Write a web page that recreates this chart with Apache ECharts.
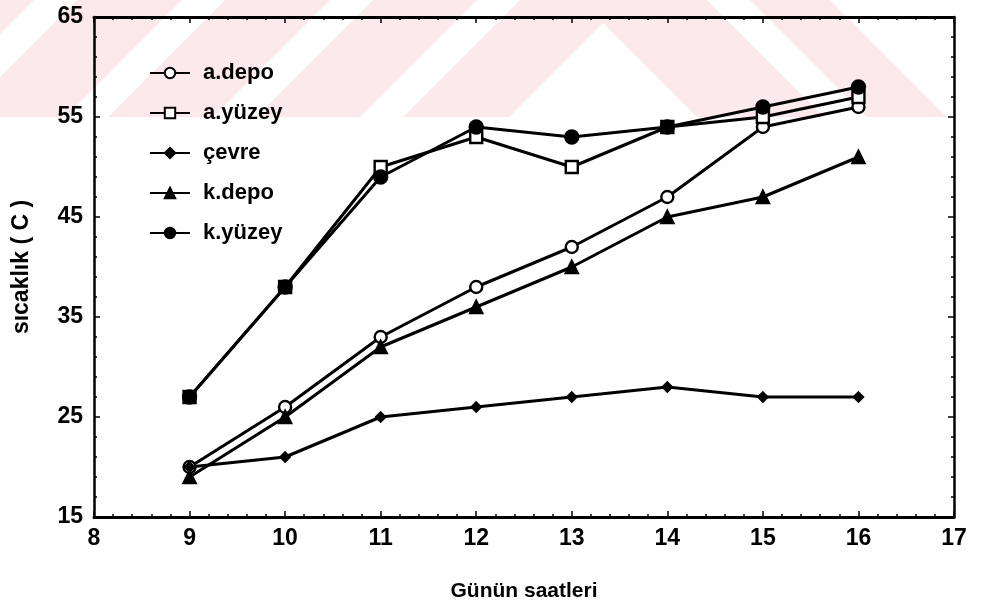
<!DOCTYPE html>
<html>
<head>
<meta charset="utf-8">
<script src="https://cdn.jsdelivr.net/npm/echarts@6/dist/echarts.min.js"></script>
<style>
  html, body { margin: 0; padding: 0; background: #fff; }
  #chart { width: 982px; height: 608px; }
</style>
</head>
<body>
<div id="chart"></div>
<script>
// Hours of the day (x) and temperatures in °C for each measurement point
const hours   = [9, 10, 11, 12, 13, 14, 15, 16];
const aDepo   = [20, 26, 33, 38, 42, 47, 54, 56];
const aYuzey  = [27, 38, 50, 53, 50, 54, 55, 57];
const cevre   = [20, 21, 25, 26, 27, 28, 27, 27];
const kDepo   = [19, 25, 32, 36, 40, 45, 47, 51];
const kYuzey  = [27, 38, 49, 54, 53, 54, 56, 58];

const xTicks = [8, 9, 10, 11, 12, 13, 14, 15, 16, 17];
const yTicks = [15, 25, 35, 45, 55, 65];

const FONT = "'Liberation Sans Narrow', 'Liberation Sans', Arial, sans-serif";

const pairs = (ys) => hours.map((h, i) => [h, ys[i]]);

// Faint pink chevron pattern behind the plot (top band only)
function chevronBands() {
  const H = 117, fill = '#fce9ec';
  const polys = [];
  // "/" bands: [left, right] at y = 0
  const leftBands = [[520, 626], [373, 477], [225, 330], [77, 182], [-71, 34]];
  leftBands.forEach(([a, b]) => polys.push([[a, 0], [b, 0], [b - H, H], [a - H, H]]));
  // "\" bands
  const rightBands = [[580, 707], [750, 830]];
  rightBands.forEach(([a, b]) => polys.push([[a, 0], [b, 0], [b + H, H], [a + H, H]]));
  return polys.map(p => ({
    type: 'polygon', z: -10, silent: true,
    shape: { points: p }, style: { fill: fill }
  }));
}

const lineStyle = { color: '#000', width: 3 };
function mkSeries(name, data, symbol, size, filled) {
  return {
    name: name, type: 'line', data: pairs(data),
    symbol: symbol, symbolSize: size,
    lineStyle: lineStyle,
    itemStyle: { color: filled ? '#000' : '#fff', borderColor: '#000', borderWidth: 2.4 },
    emphasis: { disabled: true },
    z: 3
  };
}

const axisLineStyle = (w) => ({ show: true, lineStyle: { color: '#000', width: w } });
const tickStyle = { show: true, inside: true, length: 6, lineStyle: { color: '#000', width: 1.5 } };
const minorStyle = { show: true, splitNumber: 5, length: 3, lineStyle: { color: '#000', width: 1.5 } };
const labelStyle = (m) => ({ fontFamily: FONT, fontWeight: 'bold', fontSize: 23, color: '#000', margin: m });

const chart = echarts.init(document.getElementById('chart'), null, { renderer: 'canvas' });
chart.setOption({
  backgroundColor: '#fff',
  animation: false,
  graphic: chevronBands(),
  grid: { left: 94, right: 28, top: 17, bottom: 91 },
  legend: {
    orient: 'vertical', left: 144, top: 57,
    itemWidth: 40, itemHeight: 13, itemGap: 18,
    textStyle: { fontFamily: FONT, fontWeight: 'bold', fontSize: 22, lineHeight: 20, color: '#000', padding: [0, 0, 0, 8] },
    data: ['a.depo', 'a.yüzey', 'çevre', 'k.depo', 'k.yüzey']
  },
  xAxis: [{
    type: 'value', min: xTicks[0], max: xTicks[xTicks.length - 1], interval: 1,
    name: 'Günün saatleri', nameLocation: 'middle', nameGap: 64,
    nameTextStyle: { fontFamily: FONT, fontWeight: 'bold', fontSize: 21, color: '#000' },
    axisLine: axisLineStyle(3), axisTick: tickStyle, minorTick: minorStyle,
    axisLabel: labelStyle(10),
    splitLine: { show: false }
  }, {
    type: 'value', position: 'top', min: xTicks[0], max: xTicks[xTicks.length - 1], interval: 1,
    axisLine: axisLineStyle(3), axisTick: tickStyle, minorTick: minorStyle,
    axisLabel: { show: false }, splitLine: { show: false }
  }],
  yAxis: [{
    type: 'value', min: yTicks[0], max: yTicks[yTicks.length - 1], interval: 10,
    name: 'sıcaklık ( C )', nameLocation: 'middle', nameGap: 61, nameRotate: 90,
    nameTextStyle: { fontFamily: FONT, fontWeight: 'bold', fontSize: 23, color: '#000' },
    axisLine: axisLineStyle(2.5), axisTick: tickStyle, minorTick: minorStyle,
    axisLabel: labelStyle(11),
    splitLine: { show: false }
  }, {
    type: 'value', position: 'right', min: yTicks[0], max: yTicks[yTicks.length - 1], interval: 10,
    axisLine: axisLineStyle(2.5), axisTick: tickStyle, minorTick: minorStyle,
    axisLabel: { show: false }, splitLine: { show: false }
  }],
  series: [
    mkSeries('a.depo',  aDepo,  'circle',   12, false),
    mkSeries('a.yüzey', aYuzey, 'rect',     12, false),
    mkSeries('çevre',   cevre,  'diamond',   9, true),
    mkSeries('k.depo',  kDepo,  'triangle', 12, true),
    mkSeries('k.yüzey', kYuzey, 'circle',   13, true)
  ]
});
</script>
</body>
</html>
